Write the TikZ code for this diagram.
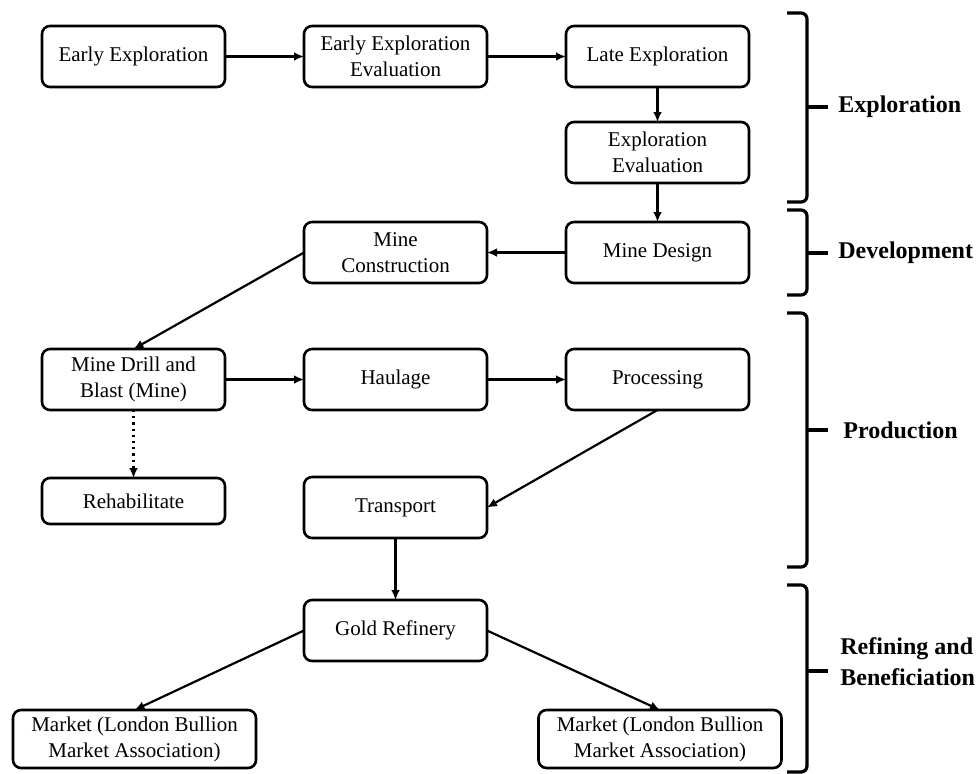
\documentclass[tikz,border=0pt]{standalone}
\usepackage{fontspec}
\setmainfont{Liberation Serif}
\usetikzlibrary{arrows.meta, positioning}

\begin{document}
\begin{tikzpicture}[
    x=0.5pt, y=-0.5pt,
    node distance=17.5pt and 39.5pt,
    box/.style={draw, rectangle, rounded corners=4pt, align=center,
                minimum width=91.5pt, minimum height=30.5pt, inner sep=2pt,
                outer sep=0pt, line width=1.3pt,
                font=\fontsize{10.5}{13}\selectfont},
    arrow/.style={-{Latex[length=5pt, width=4.4pt]}, line width=1.1pt},
    phase/.style={line width=1.6pt, rounded corners=3pt},
    phaselbl/.style={font=\fontsize{12}{15.5}\selectfont\bfseries,
                     align=left, anchor=west, inner sep=0pt}
  ]
    \useasboundingbox (0,0) rectangle (979,773);

    \node[box] (early) at (133.5,56.5) {Early Exploration};
    \node[box, right=of early] (eeval) {Early Exploration\\Evaluation};
    \node[box, right=of eeval] (late) {Late Exploration};
    \node[box, below=17.5pt of late] (expeval) {Exploration\\Evaluation};
    \node[box, below=19.5pt of expeval] (design) {Mine Design};
    \node[box, left=of design] (constr) {Mine\\Construction};
    \node[box, below=33pt of constr] (haul) {Haulage};
    \node[box, left=of haul] (drill) {Mine Drill and\\Blast (Mine)};
    \node[box, right=of haul] (proc) {Processing};
    \node[box, minimum height=23pt, below=34pt of drill] (rehab) {Rehabilitate};
    \node[box, below=33.5pt of haul] (transp) {Transport};
    \node[box, below=31pt of transp] (refinery) {Gold Refinery};
    \node[box, minimum width=121.5pt, minimum height=29pt,
          below=24.5pt of refinery, xshift=-130.5pt] (mkta)
      {Market (London Bullion\\Market Association)};
    \node[box, minimum width=121.5pt, minimum height=29pt,
          below=24.5pt of refinery, xshift=132.25pt] (mktb)
      {Market (London Bullion\\Market Association)};

    \draw[arrow] (early.east) -- (eeval.west);
    \draw[arrow] (eeval.east) -- (late.west);
    \draw[arrow] (late.south) -- (expeval.north);
    \draw[arrow] (expeval.south) -- (design.north);
    \draw[arrow] (design.west) -- (constr.east);
    \draw[arrow] (constr.west) -- (drill.north);
    \draw[arrow] (drill.east) -- (haul.west);
    \draw[arrow] (haul.east) -- (proc.west);
    \draw[arrow, dotted] (drill.south) -- (rehab.north);
    \draw[arrow] (proc.south) -- (transp.east);
    \draw[arrow] (transp.south) -- (refinery.north);
    \draw[arrow] (refinery.west) -- (mkta.north);
    \draw[arrow] (refinery.east) -- (mktb.north);

    % stage brackets
    \draw[phase] (787,13) -- (807,13) -- (807,202) -- (787,202);
    \draw[phase] (807,107) -- (828,107);
    \draw[phase] (787,210) -- (807,210) -- (807,295) -- (787,295);
    \draw[phase] (807,253) -- (828,253);
    \draw[phase] (787,313) -- (807,313) -- (807,567) -- (787,567);
    \draw[phase] (807,430) -- (828,430);
    \draw[phase] (787,585) -- (807,585) -- (807,772) -- (787,772);
    \draw[phase] (807,671) -- (828,671);

    \node[phaselbl] (lexp) at (838,107) {Exploration};
    \node[phaselbl] (ldev) at (838,253) {Development};
    \node[phaselbl] (lprod) at (843,430) {Production};
    \node[phaselbl] (lref) at (840,662) {Refining and\\Beneficiation};
  \end{tikzpicture}
\end{document}
